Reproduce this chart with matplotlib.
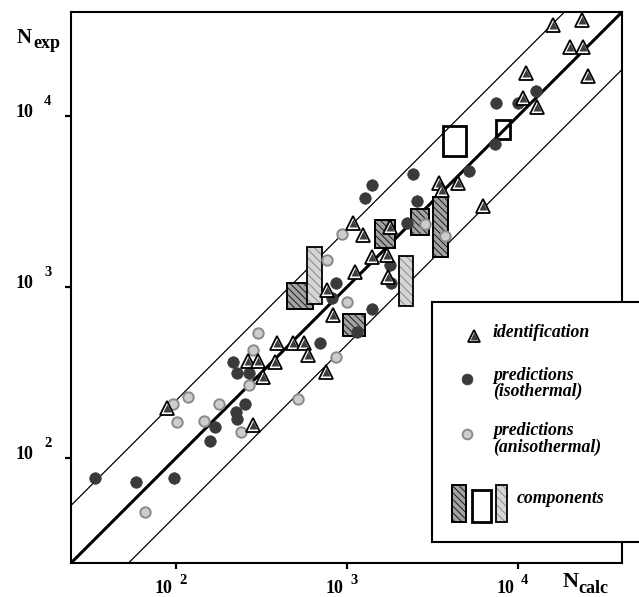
import numpy as np
import matplotlib
matplotlib.use('Agg')
import matplotlib.pyplot as plt
from matplotlib.patches import Rectangle
from matplotlib.ticker import NullLocator

plt.rcParams['font.family'] = ['Liberation Serif', 'DejaVu Serif']
plt.rcParams['hatch.linewidth'] = 0.7

# ---------------- data ----------------
# identification (triangles)
tri_x = [88.6, 264, 302, 379, 323, 282, 390, 483, 560, 591, 754, 828, 764, 1114, 1400, 1713,
         1737, 1084, 1240, 1784, 3451, 3594, 4459, 6243, 10700, 12915, 11140, 25670, 20140,
         23990, 16030, 23670]
tri_y = [196, 369, 369, 364, 298, 156, 470, 470, 470, 400, 318, 686, 960, 1224, 1498, 1539,
         1144, 2367, 2014, 2243, 4058, 3693, 4058, 2976, 12740, 11290, 17840, 17130, 25330,
         25330, 34060, 36420]

# predictions (isothermal) - dark circles
iso_x = [33.6, 58.4, 97.3, 158, 169, 224, 227, 253, 215, 227, 267, 695, 1144, 1400, 817, 862,
         1784, 1809, 2243, 1274, 1400, 2432, 2567, 5167, 7335, 7434, 10000, 12740]
iso_y = [76.4, 72.4, 76.4, 125.7, 151.8, 185.8, 169, 207, 364, 314, 314, 470, 546, 743, 862, 1055,
         1345, 1055, 2367, 3314, 3950, 4580, 3184, 4769, 6859, 11910, 11910, 14000]

# predictions (anisothermal) - light circles
aniso_x = [65.9, 96, 117.5, 101.4, 145.8, 178.5, 240, 267, 282, 302, 517, 862, 1000, 764, 935,
           2859, 3743]
aniso_y = [48.3, 207, 227, 162, 165, 207, 142, 267, 428, 538, 221, 390, 817, 1439, 2041,
           2335, 1987]

# components (ranges)
comp_x0 = [446, 584, 948, 1459, 2366, 3184, 2014, 3640, 7430]
comp_x1 = [632, 714, 1274, 1910, 3020, 3899, 2432, 4966, 8970]
comp_y0 = [743, 796, 517, 1691, 2014, 1498, 774, 5834, 7335]
comp_y1 = [1055, 1713, 695, 2465, 2859, 3360, 1518, 8745, 9480]
comp_kind = ['dark', 'light', 'dark', 'dark', 'dark', 'dark', 'light', 'open', 'open']

band_factor = 2.17
axis_lim = (24.32, 40570)
tick_vals = [100, 1000, 10000]
tick_exps = ['2', '3', '4']

# ---------------- figure ----------------
W, H = 639, 597
fig = plt.figure(figsize=(W / 100, H / 100), dpi=100)
fig.patch.set_facecolor('white')


def fx(x):
    return x / W


def fy(y):
    return 1 - y / H


PT = 0.72  # points per pixel

ax = fig.add_axes([fx(71), fy(563), 551 / W, 551 / H])
ax.set_xscale('log')
ax.set_yscale('log')
ax.set_xlim(*axis_lim)
ax.set_ylim(*axis_lim)

xx = np.array([axis_lim[0] / 10, axis_lim[1] * 10])
ax.plot(xx, xx, color='black', lw=2.2, zorder=1, solid_capstyle='butt')
ax.plot(xx, xx * band_factor, color='black', lw=0.9, zorder=1)
ax.plot(xx, xx / band_factor, color='black', lw=0.9, zorder=1)


def draw_box(a, x0, y0, w, h, kind, z=2):
    if kind == 'dark':
        a.add_patch(Rectangle((x0, y0), w, h, facecolor='#a3a3a3', edgecolor='#1a1a1a',
                              hatch='\\\\\\\\\\', lw=0, zorder=z))
        a.add_patch(Rectangle((x0, y0), w, h, fill=False, edgecolor='black', lw=1.4, zorder=z + 0.1))
    elif kind == 'light':
        a.add_patch(Rectangle((x0, y0), w, h, facecolor='#d6d6d6', edgecolor='#8a8a8a',
                              hatch='\\\\\\\\', lw=0, zorder=z))
        a.add_patch(Rectangle((x0, y0), w, h, fill=False, edgecolor='black', lw=1.3, zorder=z + 0.1))
    else:
        a.add_patch(Rectangle((x0, y0), w, h, fill=False, edgecolor='black', lw=2.0, zorder=z))


order = {'dark': 2, 'light': 2.5, 'open': 2.8}
for x0, x1, y0, y1, k in zip(comp_x0, comp_x1, comp_y0, comp_y1, comp_kind):
    draw_box(ax, x0, y0, x1 - x0, y1 - y0, k, z=order[k])

ax.plot(aniso_x, aniso_y, 'o', ms=7.5, mfc='#cdcdcd', mec='#8a8a8a', mew=1.4, ls='none', zorder=4)
ax.plot(iso_x, iso_y, 'o', ms=8.3, mfc='#3a3a3a', mec='#3a3a3a', mew=0.5, ls='none', zorder=4)
ax.plot(tri_x, tri_y, '^', ms=9.5, mfc='white', mec='black', mew=1.3, ls='none', zorder=5)
ax.plot(tri_x, tri_y, '^', ms=6.2, mfc='#3c3c3c', mec='none', ls='none', zorder=6)

for s in ax.spines.values():
    s.set_linewidth(1.5)
ax.set_xticks(tick_vals)
ax.set_yticks(tick_vals)
ax.xaxis.set_minor_locator(NullLocator())
ax.yaxis.set_minor_locator(NullLocator())
ax.set_xticklabels([])
ax.set_yticklabels([])
ax.tick_params(which='major', direction='out', length=4, width=1.6)

for v, e in zip(tick_vals, tick_exps):
    ax.annotate('10', xy=(v, 0), xycoords=('data', 'axes fraction'), xytext=(-4 * PT, -30 * PT),
                textcoords='offset points', ha='right', va='baseline', fontsize=13, fontweight='bold')
    ax.annotate(e, xy=(v, 0), xycoords=('data', 'axes fraction'), xytext=(3 * PT, -21 * PT),
                textcoords='offset points', ha='left', va='baseline', fontsize=10.5, fontweight='bold')
    ax.annotate('10', xy=(0, v), xycoords=('axes fraction', 'data'), xytext=(-38 * PT, -1 * PT),
                textcoords='offset points', ha='right', va='baseline', fontsize=13, fontweight='bold')
    ax.annotate(e, xy=(0, v), xycoords=('axes fraction', 'data'), xytext=(-27 * PT, 11 * PT),
                textcoords='offset points', ha='left', va='baseline', fontsize=10.5, fontweight='bold')

fig.text(fx(17), fy(43), 'N', fontsize=15, fontweight='bold', ha='left', va='baseline')
fig.text(fx(33), fy(48), 'exp', fontsize=13, fontweight='bold', ha='left', va='baseline')
fig.text(fx(563), fy(587), 'N', fontsize=16, fontweight='bold', ha='left', va='baseline')
fig.text(fx(578), fy(593), 'calc', fontsize=13, fontweight='bold', ha='left', va='baseline')

# ---------------- legend box ----------------
lax = fig.add_axes([fx(432), fy(542), (652 - 432) / W, 240 / H])
lax.set_xlim(432, 652)
lax.set_ylim(542, 302)
lax.set_xticks([])
lax.set_yticks([])
for s in lax.spines.values():
    s.set_linewidth(1.5)

lax.plot([474], [336], '^', ms=8.5, mfc='white', mec='black', mew=1.3, zorder=5)
lax.plot([474], [336], '^', ms=5.5, mfc='#3c3c3c', mec='none', zorder=6)
lax.plot([467], [379], 'o', ms=7.8, mfc='#3a3a3a', mec='#3a3a3a', mew=0.5)
lax.plot([467], [434], 'o', ms=7, mfc='#cdcdcd', mec='#8a8a8a', mew=1.4)
draw_box(lax, 452, 485, 14, 37, 'dark')
draw_box(lax, 472, 490, 19, 32, 'open')
draw_box(lax, 496, 485, 11, 37, 'light')

lt = dict(fontsize=12.8, fontweight='bold', fontstyle='italic', ha='left', va='baseline')
lax.text(493, 337, 'identification', **lt)
lax.text(493, 380, 'predictions', **lt)
lax.text(493, 396, '(isothermal)', **lt)
lax.text(493, 435, 'predictions', **lt)
lax.text(493, 452, '(anisothermal)', **lt)
lax.text(517, 503, 'components', **lt)

fig.savefig('out.png', dpi=100, facecolor='white')
